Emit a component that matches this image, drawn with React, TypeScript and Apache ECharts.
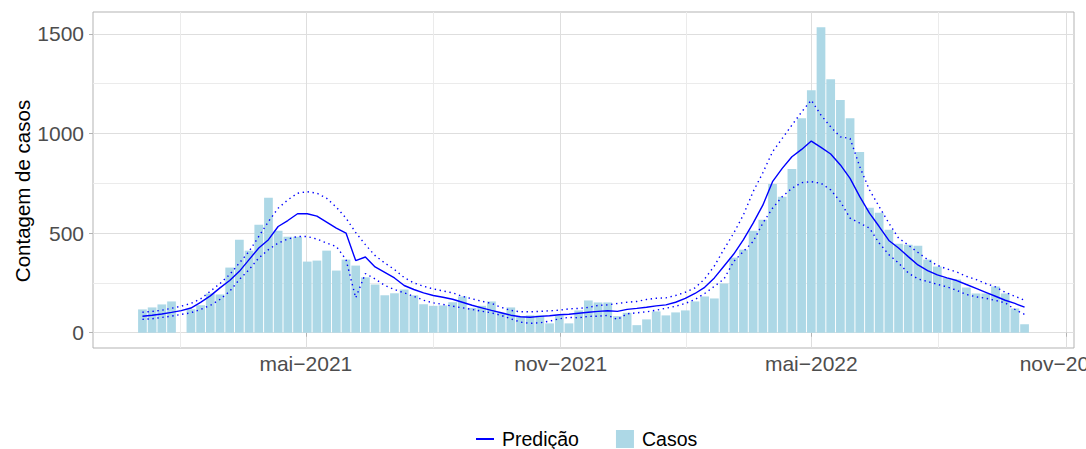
import React, { useEffect, useRef } from "react";
import * as echarts from "echarts";

// ---- data (weekly, starting 2021-01-03) ----
const firstWeek = "2021-01-03";

const casos = [
  117, 127, 142, 157, 0, 118, 138, 197, 192, 327,
  467, 412, 542, 677, 512, 482, 482, 357, 362, 412,
  312, 367, 337, 278, 242, 188, 198, 217, 188, 143,
  135, 137, 153, 182, 125, 135, 157, 100, 127, 83,
  87, 87, 47, 87, 47, 112, 162, 152, 152, 83,
  100, 38, 67, 107, 87, 102, 112, 157, 182, 172,
  247, 377, 417, 512, 567, 747, 682, 822, 1077, 1217,
  1533, 1272, 1168, 1077, 907, 627, 602, 517, 447, 442,
  437, 367, 332, 275, 267, 227, 197, 197, 232, 197,
  122, 42,
];

const predicao = [
  83, 88, 94, 102, 111, 124, 152, 185, 225, 262,
  308, 367, 425, 467, 533, 563, 597, 597, 585, 555,
  525, 500, 362, 380, 330, 303, 275, 237, 217, 200,
  187, 178, 168, 153, 138, 125, 112, 100, 88, 80,
  78, 82, 85, 90, 93, 98, 103, 107, 110, 107,
  117, 122, 128, 135, 140, 153, 172, 197, 228, 275,
  335, 395, 467, 550, 640, 758, 825, 883, 920, 962,
  930, 897, 842, 775, 683, 600, 533, 463, 425, 382,
  340, 312, 290, 275, 262, 242, 223, 203, 183, 163,
  147, 128,
];

const limiteSuperior = [
  103, 107, 113, 123, 133, 147, 170, 208, 247, 292,
  350, 408, 483, 558, 625, 667, 700, 708, 700, 675,
  630, 575, 503, 442, 387, 350, 317, 277, 250, 233,
  220, 210, 200, 183, 170, 158, 147, 128, 112, 105,
  105, 107, 110, 113, 120, 122, 127, 137, 140, 147,
  153, 157, 167, 173, 175, 187, 203, 225, 270, 335,
  420, 500, 592, 708, 803, 908, 975, 1042, 1108, 1167,
  1092, 1033, 983, 975, 833, 717, 633, 550, 475, 440,
  403, 367, 338, 320, 305, 283, 267, 247, 230, 203,
  183, 163,
];

const limiteInferior = [
  67, 70, 77, 83, 92, 100, 117, 137, 167, 208,
  267, 317, 375, 417, 450, 470, 483, 483, 470, 450,
  433, 367, 175, 297, 270, 237, 217, 200, 183, 163,
  150, 142, 133, 125, 117, 108, 100, 87, 70, 53,
  47, 50, 58, 70, 77, 75, 82, 83, 87, 67,
  95, 100, 105, 113, 123, 133, 147, 167, 197, 233,
  270, 358, 408, 458, 550, 625, 683, 725, 753, 758,
  750, 717, 658, 575, 550, 525, 450, 392, 350, 300,
  270, 257, 243, 230, 213, 192, 180, 173, 162, 150,
  117, 92,
];

const majorBreaks = ["2020-11-01", "2021-05-01", "2021-11-01", "2022-05-01", "2022-11-01"];
const majorLabels = ["nov\u22122020", "mai\u22122021", "nov\u22122021", "mai\u22122022", "nov\u22122022"];
const yTicks = [0, 500, 1000, 1500];
const yMinorTicks = [250, 750, 1250];

// ---- helpers ----
const DAY = 86400000;
const toDay = (s: string) => Date.parse(s + "T00:00:00Z") / DAY;
const start = toDay(firstWeek);
const weekDays = casos.map((_, i) => start + 7 * i);
const majorDays = majorBreaks.map(toDay);
const minorDays = majorDays.slice(1).map((d, i) => (d + majorDays[i]) / 2);

const xLo = weekDays[0] - 3.5;
const xHi = weekDays[weekDays.length - 1] + 3.5;
const xSpan = xHi - xLo;
const xMin = xLo - 0.05 * xSpan;
const xMax = xHi + 0.05 * xSpan;

const yDataMax = Math.max(...casos, ...limiteSuperior);
const yMin = -0.05 * yDataMax;
const yMax = yDataMax * 1.05;

const FONT = "'Liberation Sans', Arial, Helvetica, sans-serif";

export default function App() {
  const ref = useRef<HTMLDivElement>(null);

  useEffect(() => {
    if (!ref.current) return;
    const chart = echarts.init(ref.current, null, { renderer: "svg" });
    const pair = (arr: number[]) => arr.map((v, i) => [weekDays[i], v]);

    chart.setOption({
      animation: false,
      backgroundColor: "#ffffff",
      grid: {
        left: 93,
        right: 12,
        top: 12,
        bottom: 101,
        containLabel: false,
        outerBoundsMode: "none",
        show: true,
        borderColor: "#B3B3B3",
        borderWidth: 1,
        backgroundColor: "transparent",
      },
      xAxis: [
        {
          type: "value",
          min: xMin,
          max: xMax,
          axisLine: { show: false },
          axisTick: {
            show: true,
            length: 4,
            customValues: majorDays,
            lineStyle: { color: "#B3B3B3", width: 1 },
          },
          axisLabel: {
            customValues: majorDays,
            color: "#4D4D4D",
            fontSize: 21,
            fontFamily: FONT,
            margin: 5,
            formatter: (v: number) => {
              const idx = majorDays.findIndex((d) => Math.abs(d - v) < 0.5);
              return idx >= 0 ? majorLabels[idx] : "";
            },
          },
          splitLine: { show: true, lineStyle: { color: "#DEDEDE", width: 1 } },
        },
        {
          type: "value",
          min: xMin,
          max: xMax,
          position: "bottom",
          axisLine: { show: false },
          axisTick: { show: false, customValues: minorDays },
          axisLabel: { show: false },
          splitLine: { show: true, lineStyle: { color: "#EBEBEB", width: 1 } },
        },
      ],
      yAxis: [
        {
          type: "value",
          min: yMin,
          max: yMax,
          axisLine: { show: false },
          axisTick: {
            show: true,
            length: 4,
            customValues: yTicks,
            lineStyle: { color: "#B3B3B3", width: 1 },
          },
          axisLabel: {
            customValues: yTicks,
            color: "#4D4D4D",
            fontSize: 21,
            fontFamily: FONT,
            margin: 9,
            formatter: (v: number) => String(Math.round(v)),
          },
          splitLine: { show: true, lineStyle: { color: "#DEDEDE", width: 1 } },
        },
        {
          type: "value",
          min: yMin,
          max: yMax,
          position: "left",
          axisLine: { show: false },
          axisTick: { show: false, customValues: yMinorTicks },
          axisLabel: { show: false },
          splitLine: { show: true, lineStyle: { color: "#EBEBEB", width: 1 } },
        },
      ],
      legend: {
        data: [
          {
            name: "Predi\u00e7\u00e3o",
            icon: "path://M0,0H20V2.2H0Z",
            itemStyle: { color: "#0000FF" },
          },
          { name: "Casos", icon: "rect", itemStyle: { color: "#ADD8E6" } },
        ],
        left: 476,
        top: 429,
        padding: 0,
        itemWidth: 18,
        itemHeight: 18,
        itemGap: 37,
        textStyle: {
          color: "#000000",
          fontSize: 19.5,
          fontFamily: FONT,
          padding: [0, 0, 0, 3],
        },
      },
      graphic: [
        {
          type: "text",
          x: 22,
          y: 191,
          rotation: Math.PI / 2,
          style: {
            text: "Contagem de casos",
            fill: "#000000",
            font: `20.5px ${FONT}`,
            textAlign: "center",
            textVerticalAlign: "middle",
          },
        },
      ],
      series: [
        {
          name: "Casos",
          type: "bar",
          xAxisIndex: 0,
          yAxisIndex: 0,
          data: pair(casos),
          barWidth: "90%",
          itemStyle: { color: "#ADD8E6" },
          z: 2,
        },
        {
          name: "Predi\u00e7\u00e3o",
          type: "line",
          data: pair(predicao),
          symbol: "none",
          showSymbol: false,
          lineStyle: { color: "#0000FF", width: 1.4 },
          itemStyle: { color: "#0000FF" },
          z: 4,
        },
        {
          name: "Limite superior",
          type: "line",
          data: pair(limiteSuperior),
          symbol: "none",
          showSymbol: false,
          lineStyle: { color: "#0000FF", width: 1.4, type: [1.4, 3.6] },
          z: 3,
        },
        {
          name: "Limite inferior",
          type: "line",
          data: pair(limiteInferior),
          symbol: "none",
          showSymbol: false,
          lineStyle: { color: "#0000FF", width: 1.4, type: [1.4, 3.6] },
          z: 3,
        },
      ],
    });

    return () => chart.dispose();
  }, []);

  return (
    <div
      ref={ref}
      style={{ position: "absolute", left: 0, top: 0, width: 1086, height: 449 }}
    />
  );
}
